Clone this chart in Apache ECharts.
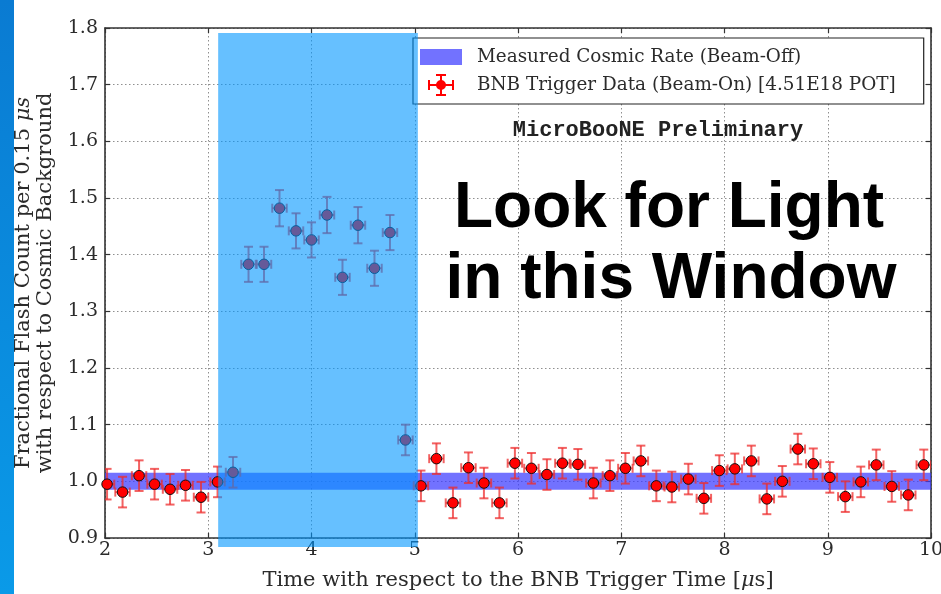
<!DOCTYPE html>
<html>
<head>
<meta charset="utf-8">
<script src="https://cdn.jsdelivr.net/npm/echarts@6/dist/echarts.min.js"></script>
<style>
html,body{margin:0;padding:0;background:#fff;}
#chart{width:941px;height:594px;}
</style>
</head>
<body>
<div id="chart"></div>
<script>
// ---- data ----
const bandName = 'Measured Cosmic Rate (Beam-Off)';
const dataName = 'BNB Trigger Data (Beam-On) [4.51E18 POT]';
const xTicks = [2, 3, 4, 5, 6, 7, 8, 9, 10];
const yTicks = [0.9, 1.0, 1.1, 1.2, 1.3, 1.4, 1.5, 1.6, 1.7, 1.8];
const bandX = [2, 10];
const bandY = [0.985, 1.015];
const timeUs = [
  2.02, 2.17, 2.33, 2.48, 2.63, 2.78, 2.93, 3.09, 3.24,
  3.39, 3.54, 3.69, 3.85, 4.00, 4.15, 4.30, 4.45, 4.61, 4.76, 4.91,
  5.06, 5.21, 5.37, 5.52, 5.67, 5.82, 5.97, 6.13, 6.28, 6.43, 6.58,
  6.73, 6.89, 7.04, 7.19, 7.34, 7.49, 7.65, 7.80, 7.95, 8.10, 8.26,
  8.41, 8.56, 8.71, 8.86, 9.02, 9.17, 9.32, 9.47, 9.62, 9.78, 9.93
];
const flashRatio = [
  0.995, 0.981, 1.010, 0.995, 0.986, 0.993, 0.972, 0.999, 1.016,
  1.383, 1.383, 1.482, 1.442, 1.426, 1.470, 1.360, 1.452, 1.376, 1.439, 1.073,
  0.992, 1.040, 0.962, 1.024, 0.997, 0.962, 1.032, 1.023, 1.012, 1.032, 1.030,
  0.997, 1.010, 1.023, 1.036, 0.992, 0.990, 1.004, 0.970, 1.019, 1.022, 1.036,
  0.969, 1.000, 1.057, 1.031, 1.007, 0.973, 0.999, 1.029, 0.991, 0.976, 1.029
];
const ratioErr = [
  0.027, 0.027, 0.027, 0.027, 0.027, 0.027, 0.027, 0.027, 0.027,
  0.031, 0.031, 0.032, 0.031, 0.031, 0.032, 0.031, 0.032, 0.031, 0.031, 0.027,
  0.027, 0.027, 0.027, 0.027, 0.027, 0.027, 0.027, 0.027, 0.027, 0.027, 0.027,
  0.027, 0.027, 0.027, 0.027, 0.027, 0.027, 0.027, 0.027, 0.027, 0.027, 0.027,
  0.027, 0.027, 0.027, 0.027, 0.027, 0.027, 0.027, 0.027, 0.027, 0.027, 0.027
];
const halfBin = 0.07;
const windowX = [3.096, 5.03];
const windowY = [0.884, 1.791];

// ---- chart ----
const serif = 'DejaVu Serif';
const txt = '#2b2b2b';
const chart = echarts.init(document.getElementById('chart'));

const pts = timeUs.map((t, i) => [t, flashRatio[i], halfBin, ratioErr[i]]);

const titleRich = {
  t: {fontFamily: serif, fontSize: 21, color: txt, lineHeight: 22},
  i: {fontFamily: serif, fontSize: 21, color: txt, fontStyle: 'italic', lineHeight: 22}
};

function axisBase(pos, showLabel, split) {
  return {
    type: 'value', position: pos, min: 2, max: 10, interval: 1,
    axisLine: {show: true, onZero: false, lineStyle: {color: '#333', width: 1.6}},
    axisTick: {show: true, inside: true, length: 5, lineStyle: {color: '#333', width: 1.2}},
    axisLabel: {show: showLabel, color: txt, fontFamily: serif, fontSize: 19, margin: 2},
    splitLine: {show: split, lineStyle: {color: '#8f8f8f', width: 1, type: [1.5, 2.5]}}
  };
}

const option = {
  animation: false,
  backgroundColor: '#fff',
  grid: {left: 105, right: 10, top: 28, bottom: 56, containLabel: false, outerBoundsMode: 'none'},
  legend: {
    left: 413, top: 38, orient: 'vertical',
    backgroundColor: '#fff', borderColor: '#222', borderWidth: 1.2, borderRadius: 0,
    padding: [10, 28, 8, 7], itemGap: 8, itemWidth: 42, itemHeight: 22,
    textStyle: {fontFamily: serif, fontSize: 18.4, color: txt, padding: [0, 0, 0, 10]},
    data: [
      {name: bandName, icon: 'path://M0,0h42v16h-42z'},
      {name: dataName, itemStyle: {borderWidth: 0},
       icon: 'path://M0,10h26v2h-26z M0,6h2v10h-2z M24,6h2v10h-2z M12,0h2v22h-2z M8,0h10v2h-10z M8,20h10v2h-10z M8,11a5,5 0 1 1 10,0a5,5 0 1 1 -10,0z'}
    ]
  },
  xAxis: [
    Object.assign(axisBase('bottom', true, true), {
      name: '{t|Time with respect to the BNB Trigger Time [}{i|\u03bc}{t|s]}',
      nameLocation: 'middle', nameGap: 32,
      nameTextStyle: {fontFamily: serif, fontSize: 21, color: txt, rich: titleRich},
      axisLabel: {show: true, color: txt, fontFamily: serif, fontSize: 19, margin: 3,
        formatter: v => xTicks.indexOf(v) >= 0 ? String(v) : ''}
    }),
    axisBase('top', false, false)
  ],
  yAxis: [
    {
      type: 'value', position: 'left', min: 0.9, max: 1.8, interval: 0.1,
      name: '{t|Fractional Flash Count per 0.15 }{i|\u03bcs}\n{t|with respect to Cosmic Background}',
      nameLocation: 'middle', nameGap: 48, nameRotate: 90,
      nameTextStyle: {fontFamily: serif, fontSize: 21, color: txt, lineHeight: 22, rich: titleRich},
      axisLine: {show: true, onZero: false, lineStyle: {color: '#333', width: 1.6}},
      axisTick: {show: true, inside: true, length: 5, lineStyle: {color: '#333', width: 1.2}},
      axisLabel: {color: txt, fontFamily: serif, fontSize: 19, margin: 7,
        formatter: v => { const m = yTicks.find(t => Math.abs(t - v) < 1e-6); return m !== undefined ? m.toFixed(1) : ''; }},
      splitLine: {show: true, lineStyle: {color: '#8f8f8f', width: 1, type: [1.5, 2.5]}}
    },
    {
      type: 'value', position: 'right', min: 0.9, max: 1.8, interval: 0.1,
      axisLine: {show: true, onZero: false, lineStyle: {color: '#333', width: 1.6}},
      axisTick: {show: true, inside: true, length: 5, lineStyle: {color: '#333', width: 1.2}},
      axisLabel: {show: false}, splitLine: {show: false}
    }
  ],
  series: [
    {
      name: bandName, type: 'custom', z: 1,
      itemStyle: {color: 'rgba(60,60,255,0.72)'},
      data: [[bandX[0], bandX[1], bandY[0], bandY[1]]],
      renderItem: (params, api) => {
        const a = api.coord([api.value(0), api.value(3)]);
        const b = api.coord([api.value(1), api.value(2)]);
        return {type: 'rect', shape: {x: a[0], y: a[1], width: b[0] - a[0], height: b[1] - a[1]},
          style: {fill: 'rgba(60,60,255,0.72)'}};
      }
    },
    {
      name: 'errors', type: 'custom', z: 2, clip: true, silent: true,
      data: pts,
      renderItem: (params, api) => {
        const x = api.value(0), y = api.value(1), xe = api.value(2), ye = api.value(3);
        const l = api.coord([x - xe, y]), r = api.coord([x + xe, y]);
        const t = api.coord([x, y + ye]), b = api.coord([x, y - ye]);
        const cap = 4.5;
        const st = {stroke: 'rgba(238,45,45,0.75)', lineWidth: 2};
        const line = (x1, y1, x2, y2) => ({type: 'line', shape: {x1, y1, x2, y2}, style: st});
        return {type: 'group', children: [
          line(l[0], l[1], r[0], r[1]),
          line(t[0], t[1], b[0], b[1]),
          line(t[0] - cap, t[1], t[0] + cap, t[1]),
          line(b[0] - cap, b[1], b[0] + cap, b[1]),
          line(l[0], l[1] - cap, l[0], l[1] + cap),
          line(r[0], r[1] - cap, r[0], r[1] + cap)
        ]};
      }
    },
    {
      name: dataName, type: 'scatter', z: 3, symbol: 'circle', symbolSize: 10.5,
      itemStyle: {color: '#ff0000', borderColor: '#111', borderWidth: 1, opacity: 1},
      data: timeUs.map((t, i) => [t, flashRatio[i]])
    }
  ]
};
chart.setOption(option);

const p0 = chart.convertToPixel({gridIndex: 0}, [windowX[0], windowY[1]]);
const p1 = chart.convertToPixel({gridIndex: 0}, [windowX[1], windowY[0]]);

chart.setOption({
  graphic: [
    {type: 'rect', left: 0, top: 0, z: 100, shape: {width: 14, height: 594},
     style: {fill: new echarts.graphic.LinearGradient(0, 0, 0, 1, [
       {offset: 0, color: '#0a7bd2'}, {offset: 1, color: '#0a9ae8'}])}},
    {type: 'rect', z: 100, shape: {x: p0[0], y: p0[1], width: p1[0] - p0[0], height: p1[1] - p0[1]},
     style: {fill: 'rgba(0,150,255,0.6)'}},
    {type: 'text', z: 101, x: 658, y: 130,
     style: {text: 'MicroBooNE Preliminary', fontFamily: 'Liberation Mono', fontWeight: 'bold',
       fontSize: 22, fill: '#222', align: 'center', verticalAlign: 'middle'}},
    {type: 'text', z: 101, x: 669, y: 209,
     style: {text: 'Look for Light', fontFamily: 'Liberation Sans', fontWeight: 'bold',
       fontSize: 64, fill: '#000', align: 'center', verticalAlign: 'middle'}},
    {type: 'text', z: 101, x: 671, y: 280,
     style: {text: 'in this Window', fontFamily: 'Liberation Sans', fontWeight: 'bold',
       fontSize: 64, fill: '#000', align: 'center', verticalAlign: 'middle'}}
  ]
});
</script>
</body>
</html>
